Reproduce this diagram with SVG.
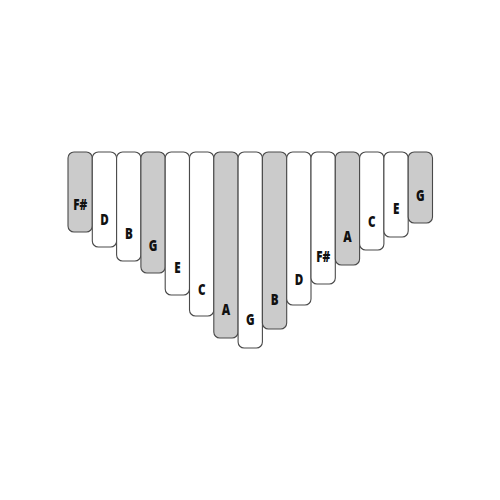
<svg xmlns="http://www.w3.org/2000/svg" width="500" height="500" viewBox="0 0 500 500">
<style>
.t{stroke:#4a4a4a;stroke-width:1.1}
.w{fill:#fff}
.g{fill:#cbcbcb}
text{font-family:"Open Sans","DejaVu Sans Condensed","Liberation Sans",sans-serif;font-weight:800;font-size:15.5px;fill:#111;text-anchor:middle}
</style>
<rect width="500" height="500" fill="#fff"/>
<g id="tine1"><rect class="t g" x="68" y="152" width="24.3" height="80" rx="6"/><text transform="translate(80.2 210) scale(0.75 1)">F#</text></g>
<g id="tine2"><rect class="t w" x="92.3" y="152" width="24.3" height="95" rx="6"/><text transform="translate(104.5 225) scale(0.75 1)">D</text></g>
<g id="tine3"><rect class="t w" x="116.6" y="152" width="24.3" height="109" rx="6"/><text transform="translate(128.8 239) scale(0.75 1)">B</text></g>
<g id="tine4"><rect class="t g" x="140.9" y="152" width="24.3" height="121" rx="6"/><text transform="translate(153.1 251) scale(0.75 1)">G</text></g>
<g id="tine5"><rect class="t w" x="165.2" y="152" width="24.3" height="143" rx="6"/><text transform="translate(177.4 273) scale(0.75 1)">E</text></g>
<g id="tine6"><rect class="t w" x="189.5" y="152" width="24.3" height="164" rx="6"/><text transform="translate(201.7 295) scale(0.75 1)">C</text></g>
<g id="tine7"><rect class="t g" x="213.8" y="152" width="24.3" height="186" rx="6"/><text transform="translate(226 315) scale(0.75 1)">A</text></g>
<g id="tine8"><rect class="t w" x="238.1" y="152" width="24.3" height="196" rx="6"/><text transform="translate(250.3 325) scale(0.75 1)">G</text></g>
<g id="tine9"><rect class="t g" x="262.4" y="152" width="24.3" height="177" rx="6"/><text transform="translate(274.6 305) scale(0.75 1)">B</text></g>
<g id="tine10"><rect class="t w" x="286.7" y="152" width="24.3" height="153" rx="6"/><text transform="translate(298.9 285) scale(0.75 1)">D</text></g>
<g id="tine11"><rect class="t w" x="311" y="152" width="24.3" height="132" rx="6"/><text transform="translate(323.2 262) scale(0.75 1)">F#</text></g>
<g id="tine12"><rect class="t g" x="335.3" y="152" width="24.3" height="113" rx="6"/><text transform="translate(347.5 242) scale(0.75 1)">A</text></g>
<g id="tine13"><rect class="t w" x="359.6" y="152" width="24.3" height="98" rx="6"/><text transform="translate(371.8 227) scale(0.75 1)">C</text></g>
<g id="tine14"><rect class="t w" x="383.9" y="152" width="24.3" height="85" rx="6"/><text transform="translate(396.1 214) scale(0.75 1)">E</text></g>
<g id="tine15"><rect class="t g" x="408.2" y="152" width="24.3" height="71" rx="6"/><text transform="translate(420.4 201) scale(0.75 1)">G</text></g>
<g id="connectors"/>
</svg>
